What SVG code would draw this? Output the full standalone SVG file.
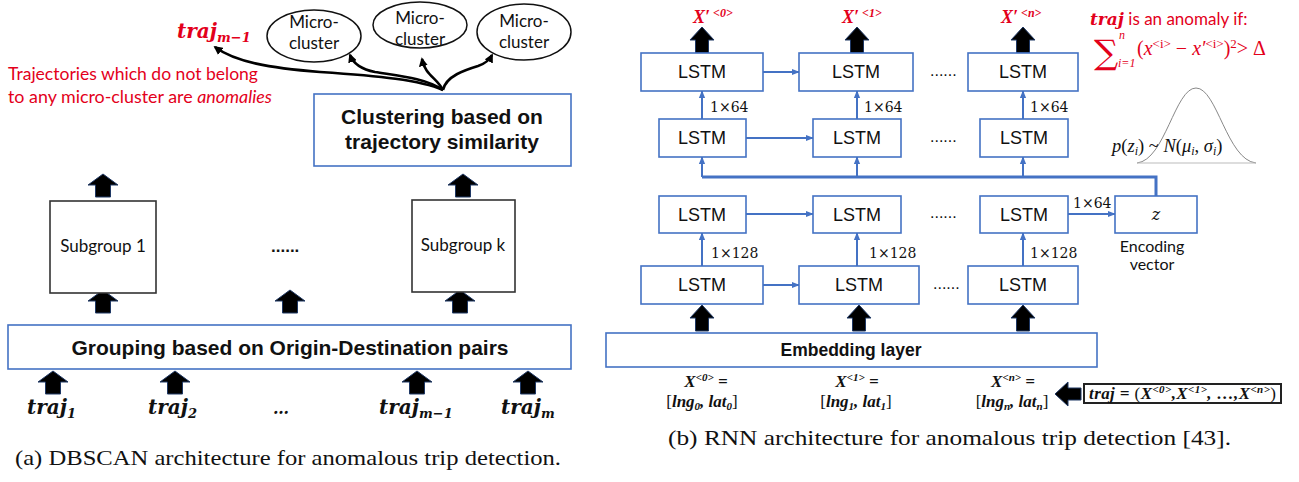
<svg xmlns="http://www.w3.org/2000/svg" width="1299" height="482" viewBox="0 0 1299 482">
<style>
.bg{fill:#fff}
.bbox{fill:#fff;stroke:#4472c4;stroke-width:1.6}
.kbox{fill:#fff;stroke:#333;stroke-width:1.6}
.ell{fill:#fff;stroke:#111;stroke-width:1.5}
.cal{font-family:Lato,"Open Sans",sans-serif;fill:#111}
.ar{font-family:"Liberation Sans",Arial,sans-serif;fill:#111}
.arb{font-family:"Liberation Sans",Arial,sans-serif;font-weight:bold;fill:#111}
.mth{font-family:"Liberation Serif","DejaVu Serif",serif;font-weight:bold;font-style:italic;fill:#111}
.mth2{font-family:"DejaVu Serif",serif;font-weight:bold;font-style:italic;fill:#111}
.num{font-family:"DejaVu Serif",serif;font-size:14px;fill:#111}
.cap{font-family:"Liberation Serif","Times New Roman",serif;font-size:21.5px;fill:#111}
.lstm{font-family:"Liberation Sans",Arial,sans-serif;font-size:18px;fill:#111;text-anchor:middle}
.blk{fill:#000;stroke:#1f3864;stroke-width:1}
.bl{fill:none;stroke:#4472c4;stroke-width:2}
.bus{fill:none;stroke:#4472c4;stroke-width:3}
.ka{fill:none;stroke:#000;stroke-width:2.6}
.red{fill:#e3001b}
</style>
<defs>
<marker id="mk" viewBox="0 0 10 10" refX="8" refY="5" markerWidth="9" markerHeight="9" markerUnits="userSpaceOnUse" orient="auto"><path d="M0,0 L10,5 L0,10 Z" fill="#000"/></marker>
<marker id="mb" viewBox="0 0 10 10" refX="9" refY="5" markerWidth="8" markerHeight="8" markerUnits="userSpaceOnUse" orient="auto"><path d="M0,1 L10,5 L0,9 Z" fill="#4472c4"/></marker>
<path id="upL" d="M0,0 L15,11 L7.5,11 L7.5,23 L-7.5,23 L-7.5,11 L-15,11 Z"/>
<path id="upR" d="M0,0 L12,13 L6.5,13 L6.5,26 L-6.5,26 L-6.5,13 L-12,13 Z"/>
<path id="lft" d="M0,0 L13,-12 L13,-6 L26,-6 L26,6 L13,6 L13,12 Z"/>
</defs>
<rect class="bg" x="0" y="0" width="1299" height="482"/>

<!-- ===== Left panel (a) ===== -->
<g id="connectors-a">
<path class="ka" d="M443,90 C420,80 380,76 320,72 C270,68 235,62 215,47" marker-end="url(#mk)"/>
<path class="ka" d="M443,90 C425,78 400,76 375,72 C360,69 353,63 350,55" marker-end="url(#mk)"/>
<path class="ka" d="M443,90 C437,78 425,75 422,59" marker-end="url(#mk)"/>
<path class="ka" d="M443,90 C446,76 465,70 478,66 C487,63 490,59 492,55" marker-end="url(#mk)"/>
<g class="blk">
<use href="#upL" x="103" y="174"/>
<use href="#upL" x="463" y="174"/>
<use href="#upL" x="103" y="290"/>
<use href="#upL" x="290" y="290"/>
<use href="#upL" x="460" y="290"/>
<use href="#upL" x="53" y="371"/>
<use href="#upL" x="175" y="371"/>
<use href="#upL" x="417" y="371"/>
<use href="#upL" x="528" y="371"/>
</g>
</g>

<g id="micro1"><ellipse class="ell" cx="314" cy="36" rx="47" ry="26"/>
<text class="cal" font-size="17" text-anchor="middle" x="314" y="28">Micro-</text>
<text class="cal" font-size="17" text-anchor="middle" x="314" y="49">cluster</text></g>
<g id="micro2"><ellipse class="ell" cx="420" cy="25" rx="47" ry="23"/>
<text class="cal" font-size="17" text-anchor="middle" x="420" y="24">Micro-</text>
<text class="cal" font-size="17" text-anchor="middle" x="420" y="45">cluster</text></g>
<g id="micro3"><ellipse class="ell" cx="524" cy="32" rx="47" ry="28"/>
<text class="cal" font-size="17" text-anchor="middle" x="524" y="27">Micro-</text>
<text class="cal" font-size="17" text-anchor="middle" x="524" y="48">cluster</text></g>

<g id="anomaly-note">
<text class="mth2 red" font-size="20" x="177" y="38">traj<tspan font-size="13" dy="4">m−1</tspan></text>
<text class="cal red" font-size="17" x="8" y="80" textLength="250" lengthAdjust="spacingAndGlyphs">Trajectories which do not belong</text>
<text class="cal red" font-size="17" x="8" y="103" textLength="264" lengthAdjust="spacingAndGlyphs">to any micro-cluster are <tspan font-style="italic">anomalies</tspan></text>
</g>

<g id="clustering"><rect class="bbox" x="314" y="94" width="257" height="72"/>
<text class="arb" font-size="21" text-anchor="middle" x="442" y="124">Clustering based on</text>
<text class="arb" font-size="21" text-anchor="middle" x="442" y="149">trajectory similarity</text></g>

<g id="subgroup1"><rect class="kbox" x="50" y="201" width="106" height="92"/>
<text class="cal" font-size="17" text-anchor="middle" x="103" y="252">Subgroup 1</text></g>
<g id="subgroupk"><rect class="kbox" x="412" y="200" width="103" height="92"/>
<text class="cal" font-size="17" text-anchor="middle" x="463" y="251">Subgroup k</text></g>
<text class="arb" font-size="17" x="271" y="252">......</text>

<g id="grouping"><rect class="bbox" x="8" y="325" width="563" height="44"/>
<text class="arb" font-size="20.5" text-anchor="middle" x="290" y="355" textLength="437" lengthAdjust="spacingAndGlyphs">Grouping based on Origin-Destination pairs</text></g>

<g id="traj-inputs">
<text class="mth2" font-size="20" x="27" y="414">traj<tspan font-size="13" dy="4">1</tspan></text>
<text class="mth2" font-size="20" x="148" y="414">traj<tspan font-size="13" dy="4">2</tspan></text>
<text class="mth2" font-size="16" x="273" y="414">…</text>
<text class="mth2" font-size="20" x="379" y="414">traj<tspan font-size="13" dy="4">m−1</tspan></text>
<text class="mth2" font-size="20" x="501" y="414">traj<tspan font-size="13" dy="4">m</tspan></text>
</g>
<text class="cap" x="15" y="465" textLength="546" lengthAdjust="spacingAndGlyphs">(a) DBSCAN architecture for anomalous trip detection.</text>

<!-- ===== Right panel (b) ===== -->
<g id="connectors-b">
<path class="bus" d="M702,177 H1156 V196"/>
<path class="bl" d="M763,72 H799" marker-end="url(#mb)"/>
<path class="bl" d="M746,138 H813" marker-end="url(#mb)"/>
<path class="bl" d="M746,214 H813" marker-end="url(#mb)"/>
<path class="bl" d="M763,285 H799" marker-end="url(#mb)"/>
<path class="bl" d="M1068,214 H1115" marker-end="url(#mb)"/>
<path class="bl" d="M702,119 V91" marker-end="url(#mb)"/>
<path class="bl" d="M857,119 V91" marker-end="url(#mb)"/>
<path class="bl" d="M1023,119 V91" marker-end="url(#mb)"/>
<path class="bl" d="M702,177 V157" marker-end="url(#mb)"/>
<path class="bl" d="M857,177 V157" marker-end="url(#mb)"/>
<path class="bl" d="M1023,177 V157" marker-end="url(#mb)"/>
<path class="bl" d="M702,266 V233" marker-end="url(#mb)"/>
<path class="bl" d="M857,266 V233" marker-end="url(#mb)"/>
<path class="bl" d="M1023,267 V233" marker-end="url(#mb)"/>
<g class="blk">
<use href="#upR" x="702" y="27"/>
<use href="#upR" x="857" y="27"/>
<use href="#upR" x="1023" y="27"/>
<use href="#upR" x="702" y="305"/>
<use href="#upR" x="859" y="305"/>
<use href="#upR" x="1023" y="305"/>
<use href="#lft" x="1055" y="394"/>
</g>
</g>

<g id="dim-labels">
<text class="num" x="710" y="112">1×64</text>
<text class="num" x="864" y="112">1×64</text>
<text class="num" x="1030" y="112">1×64</text>
<text class="num" x="711" y="258">1×128</text>
<text class="num" x="869" y="258">1×128</text>
<text class="num" x="1030" y="258">1×128</text>
<text class="num" x="1073" y="208">1×64</text>
</g>

<g id="outputs">
<text class="mth red" font-size="18" x="693" y="23">X′<tspan font-size="12" dy="-6"> &lt;0&gt;</tspan></text>
<text class="mth red" font-size="18" x="842" y="23">X′<tspan font-size="12" dy="-6"> &lt;1&gt;</tspan></text>
<text class="mth red" font-size="18" x="1001" y="23">X′<tspan font-size="12" dy="-6"> &lt;n&gt;</tspan></text>
</g>

<g id="lstm-d1a"><rect class="bbox" x="641" y="53" width="122" height="38"/><text class="lstm" x="702" y="78">LSTM</text></g>
<g id="lstm-d1b"><rect class="bbox" x="799" y="53" width="114" height="38"/><text class="lstm" x="856" y="78">LSTM</text></g>
<g id="lstm-d1c"><rect class="bbox" x="968" y="53" width="110" height="38"/><text class="lstm" x="1023" y="78">LSTM</text></g>
<g id="lstm-d2a"><rect class="bbox" x="659" y="119" width="87" height="38"/><text class="lstm" x="702" y="144">LSTM</text></g>
<g id="lstm-d2b"><rect class="bbox" x="813" y="119" width="88" height="38"/><text class="lstm" x="857" y="144">LSTM</text></g>
<g id="lstm-d2c"><rect class="bbox" x="980" y="119" width="88" height="38"/><text class="lstm" x="1024" y="144">LSTM</text></g>
<g id="lstm-e2a"><rect class="bbox" x="659" y="196" width="87" height="37"/><text class="lstm" x="702" y="221">LSTM</text></g>
<g id="lstm-e2b"><rect class="bbox" x="813" y="196" width="88" height="37"/><text class="lstm" x="857" y="221">LSTM</text></g>
<g id="lstm-e2c"><rect class="bbox" x="980" y="196" width="88" height="37"/><text class="lstm" x="1024" y="221">LSTM</text></g>
<g id="lstm-e1a"><rect class="bbox" x="641" y="266" width="122" height="38"/><text class="lstm" x="702" y="291">LSTM</text></g>
<g id="lstm-e1b"><rect class="bbox" x="799" y="266" width="120" height="38"/><text class="lstm" x="859" y="291">LSTM</text></g>
<g id="lstm-e1c"><rect class="bbox" x="968" y="266" width="110" height="38"/><text class="lstm" x="1023" y="291">LSTM</text></g>
<g id="dots-b" class="ar" font-size="16">
<text x="930" y="76">......</text>
<text x="930" y="142">......</text>
<text x="930" y="218">......</text>
<text x="933" y="289">......</text>
</g>

<g id="zvec"><rect class="bbox" x="1115" y="196" width="82" height="37"/>
<text font-family="'DejaVu Serif',serif" font-style="italic" font-size="16" fill="#111" text-anchor="middle" x="1156" y="220">z</text>
<text class="cal" font-size="16" text-anchor="middle" x="1152" y="252">Encoding</text>
<text class="cal" font-size="16" text-anchor="middle" x="1152" y="270">vector</text></g>

<g id="embedding"><rect class="bbox" x="606" y="333" width="491" height="34"/>
<text class="arb" font-size="17.5" text-anchor="middle" x="851" y="356">Embedding layer</text></g>

<g id="inputs-b">
<text class="mth" font-size="17" text-anchor="middle" x="706" y="387">X<tspan font-size="11" dy="-6">&lt;0&gt;</tspan><tspan dy="6"> =</tspan></text>
<text class="mth" font-size="17" text-anchor="middle" x="702" y="407"><tspan font-style="normal" font-weight="normal">[</tspan>lng<tspan font-size="11" dy="3">0</tspan><tspan dy="-3">, lat</tspan><tspan font-size="11" dy="3">0</tspan><tspan dy="-3" font-style="normal" font-weight="normal">]</tspan></text>
<text class="mth" font-size="17" text-anchor="middle" x="857" y="387">X<tspan font-size="11" dy="-6">&lt;1&gt;</tspan><tspan dy="6"> =</tspan></text>
<text class="mth" font-size="17" text-anchor="middle" x="856" y="407"><tspan font-style="normal" font-weight="normal">[</tspan>lng<tspan font-size="11" dy="3">1</tspan><tspan dy="-3">, lat</tspan><tspan font-size="11" dy="3">1</tspan><tspan dy="-3" font-style="normal" font-weight="normal">]</tspan></text>
<text class="mth" font-size="17" text-anchor="middle" x="1013" y="387">X<tspan font-size="11" dy="-6">&lt;n&gt;</tspan><tspan dy="6"> =</tspan></text>
<text class="mth" font-size="17" text-anchor="middle" x="1012" y="407"><tspan font-style="normal" font-weight="normal">[</tspan>lng<tspan font-size="11" dy="3">n</tspan><tspan dy="-3">, lat</tspan><tspan font-size="11" dy="3">n</tspan><tspan dy="-3" font-style="normal" font-weight="normal">]</tspan></text>
</g>

<g id="traj-seq"><rect x="1084" y="384" width="197" height="19" fill="#fff" stroke="#222" stroke-width="2"/>
<text class="mth" font-size="17" x="1089" y="399" textLength="187" lengthAdjust="spacing">traj = <tspan font-style="normal" font-weight="normal"> (</tspan>X<tspan font-size="11" dy="-6">&lt;0&gt;</tspan><tspan dy="6">,X</tspan><tspan font-size="11" dy="-6">&lt;1&gt;</tspan><tspan dy="6">, …,X</tspan><tspan font-size="11" dy="-6">&lt;n&gt;</tspan><tspan dy="6" font-style="normal" font-weight="normal">)</tspan></text></g>

<g id="anomaly-rule">
<text class="red" font-size="17" x="1090" y="25"><tspan class="mth2 red" font-size="17">traj</tspan><tspan font-family="Lato,'Open Sans',sans-serif"> is an anomaly if:</tspan></text>
<text class="red" font-family="'DejaVu Serif',serif" font-size="34" x="1094" y="64">∑</text>
<text class="red" font-family="'Liberation Serif',serif" font-style="italic" font-size="12" x="1119" y="39">n</text>
<text class="red" font-family="'Liberation Serif',serif" font-style="italic" font-size="12" x="1118" y="67">i=1</text>
<text class="red" font-family="'Liberation Serif','DejaVu Serif',serif" font-size="20" x="1137" y="55">(<tspan font-style="italic">x</tspan><tspan font-size="13" dy="-7">&lt;i&gt;</tspan><tspan dy="7"> − </tspan><tspan font-style="italic">x′</tspan><tspan font-size="13" dy="-7">&lt;i&gt;</tspan><tspan dy="7">)</tspan><tspan font-size="13" dy="-7">2</tspan><tspan dy="7">&gt; Δ</tspan></text>
</g>

<g id="gaussian">
<path d="M1137,163 C1165,160 1175,88 1196,88 C1217,88 1227,160 1256,163" fill="none" stroke="#888" stroke-width="1"/>
<line x1="1137" y1="163" x2="1256" y2="163" stroke="#bbb" stroke-width="1"/>
<text font-family="'Liberation Serif','DejaVu Serif',serif" font-style="italic" font-size="18.5" fill="#111" x="1112" y="152"><tspan>p</tspan><tspan font-style="normal">(</tspan>z<tspan font-size="12" dy="3">i</tspan><tspan dy="-3" font-style="normal">) ~ </tspan>N<tspan font-style="normal">(</tspan>μ<tspan font-size="12" dy="3">i</tspan><tspan dy="-3" font-style="normal">, </tspan>σ<tspan font-size="12" dy="3">i</tspan><tspan dy="-3" font-style="normal">)</tspan></text>
</g>

<text class="cap" x="668" y="445" textLength="563" lengthAdjust="spacingAndGlyphs">(b) RNN architecture for anomalous trip detection [43].</text>
</svg>
